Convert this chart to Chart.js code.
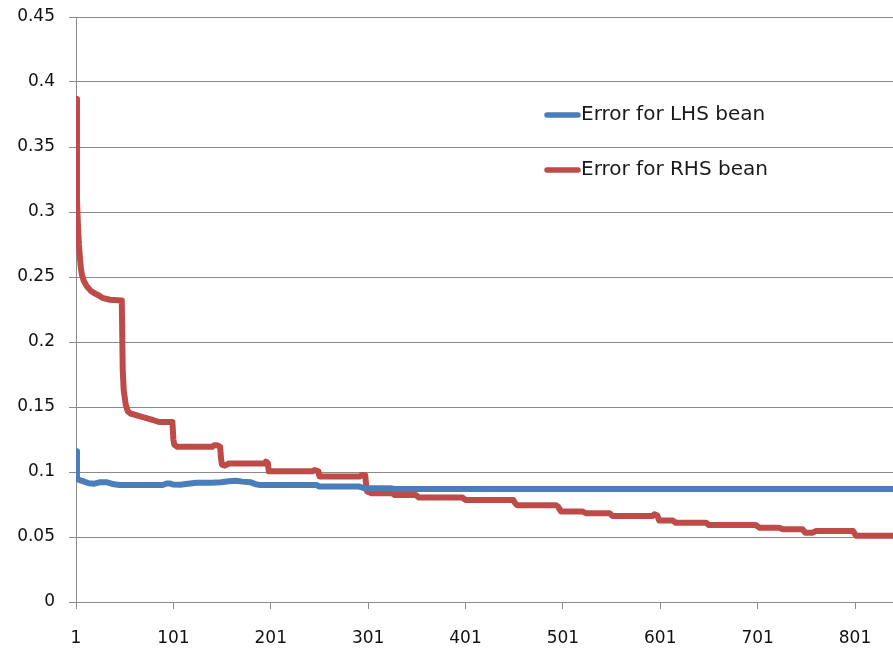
<!DOCTYPE html>
<html>
<head>
<meta charset="utf-8">
<title>Error for LHS / RHS bean</title>
<script src="https://cdn.jsdelivr.net/npm/chart.js@4.4.1/dist/chart.umd.min.js"></script>
<style>
  html, body { margin: 0; padding: 0; background: #ffffff; }
  #wrap { width: 893px; height: 650px; }
</style>
</head>
<body>
<div id="wrap"><canvas id="chart" width="893" height="650"></canvas></div>
<script>
// Iteration numbers shown under the horizontal axis
const xTicks = [1, 101, 201, 301, 401, 501, 601, 701, 801];
// Gridline values on the vertical axis
const yTicks = [0, 0.05, 0.1, 0.15, 0.2, 0.25, 0.3, 0.35, 0.4, 0.45];

const seriesNames = ['Error for LHS bean', 'Error for RHS bean'];

// Error for LHS bean: iteration where the value changes, and the value there
const lhsIter = [1, 2, 4, 8, 14, 20, 26, 32, 40, 46, 90, 94, 97, 101, 108, 118, 125, 140, 150, 158, 165, 172, 180, 186, 190, 248, 251, 292, 297, 324, 328, 840];
const lhsErr  = [0.116, 0.0955, 0.094, 0.093, 0.0913, 0.091, 0.0922, 0.0922, 0.0905, 0.090, 0.090, 0.0912, 0.0912, 0.0903, 0.0902, 0.0912, 0.0917, 0.0918, 0.0922, 0.0928, 0.0932, 0.0926, 0.0922, 0.0905, 0.090, 0.090, 0.0888, 0.0888, 0.0875, 0.0875, 0.0869, 0.0869];

// Error for RHS bean: iteration where the value changes, and the value there
const rhsIter = [1, 2, 3, 4, 5, 6, 7, 9, 12, 16, 20, 24, 28, 36, 48, 49, 50, 52, 54, 57, 66, 75, 80, 86, 100, 101, 102, 105, 141, 143, 146, 149, 150, 151, 154, 158, 195, 196, 198, 199, 244, 246, 250, 251, 292, 295, 298, 299, 300, 305, 326, 328, 350, 353, 398, 401, 450, 452, 454, 494, 496, 499, 521, 525, 549, 552, 593, 595, 598, 600, 614, 617, 648, 651, 699, 703, 723, 727, 747, 750, 757, 761, 799, 802, 840];
const rhsErr  = [0.387, 0.31, 0.29, 0.275, 0.265, 0.257, 0.252, 0.247, 0.243, 0.2395, 0.2375, 0.236, 0.234, 0.2325, 0.232, 0.178, 0.163, 0.152, 0.147, 0.145, 0.143, 0.141, 0.140, 0.1385, 0.1385, 0.125, 0.121, 0.1195, 0.1195, 0.1205, 0.1205, 0.1195, 0.110, 0.1055, 0.105, 0.1065, 0.1065, 0.108, 0.107, 0.1005, 0.1005, 0.1015, 0.1005, 0.0965, 0.0965, 0.0978, 0.0975, 0.0895, 0.085, 0.0836, 0.0836, 0.0823, 0.0823, 0.0803, 0.0803, 0.0785, 0.0785, 0.076, 0.0744, 0.0744, 0.0735, 0.0697, 0.0697, 0.0682, 0.0682, 0.0662, 0.0662, 0.0675, 0.0665, 0.0626, 0.0626, 0.061, 0.061, 0.0592, 0.0592, 0.0572, 0.0572, 0.0559, 0.0559, 0.0533, 0.0533, 0.0546, 0.0546, 0.051, 0.051];

const BLUE = '#4A7EBB';
const RED = '#BE4B48';
const GRID = '#8a8a8a';
const FONT = '"DejaVu Sans", sans-serif';

const toPoints = (xs, ys) => xs.map((x, i) => ({ x: x, y: ys[i] }));

// Legend drawn inside the plot area, without a box
const insideLegend = {
  id: 'insideLegend',
  afterDatasetsDraw(chart) {
    const { ctx, chartArea } = chart;
    const x0 = chartArea.left + 469;
    const rows = [chartArea.top + 98, chartArea.top + 153];
    ctx.save();
    chart.data.datasets.forEach((ds, i) => {
      const y = rows[i];
      ctx.strokeStyle = ds.borderColor;
      ctx.lineWidth = 5.5;
      ctx.lineCap = 'round';
      ctx.beginPath();
      ctx.moveTo(x0 + 2, y);
      ctx.lineTo(x0 + 33, y);
      ctx.stroke();
      ctx.fillStyle = '#1a1a1a';
      ctx.font = '20px ' + FONT;
      ctx.textAlign = 'left';
      ctx.textBaseline = 'middle';
      ctx.fillText(ds.label, x0 + 36, y);
    });
    ctx.restore();
  }
};

const lineStyle = color => ({
  borderColor: color,
  backgroundColor: color,
  borderWidth: 6,
  pointRadius: 0,
  tension: 0,
  borderJoinStyle: 'round',
  borderCapStyle: 'round',
  fill: false
});

new Chart(document.getElementById('chart'), {
  type: 'line',
  data: {
    datasets: [
      Object.assign({ label: seriesNames[0], data: toPoints(lhsIter, lhsErr) }, lineStyle(BLUE)),
      Object.assign({ label: seriesNames[1], data: toPoints(rhsIter, rhsErr) }, lineStyle(RED))
    ]
  },
  options: {
    responsive: false,
    animation: false,
    events: [],
    layout: { padding: { top: 17, right: 0, bottom: 0, left: 0 } },
    plugins: {
      legend: { display: false },
      tooltip: { enabled: false }
    },
    scales: {
      x: {
        type: 'linear',
        min: 1,
        max: 840,
        afterBuildTicks(scale) { scale.ticks = xTicks.map(v => ({ value: v })); },
        afterFit(scale) { scale.height = 48; scale.paddingLeft = 0; scale.paddingRight = 0; },
        grid: { drawOnChartArea: false, drawTicks: true, tickLength: 7, color: GRID, lineWidth: 1 },
        border: { display: true, color: GRID, width: 1 },
        ticks: {
          autoSkip: false,
          maxRotation: 0,
          padding: 19,
          color: '#111',
          font: { family: FONT, size: 17 },
          callback: v => String(v)
        }
      },
      y: {
        type: 'linear',
        min: 0,
        max: 0.45,
        afterBuildTicks(scale) { scale.ticks = yTicks.map(v => ({ value: v })); },
        afterFit(scale) { scale.width = 76; scale.paddingTop = 0; scale.paddingBottom = 0; },
        grid: { drawOnChartArea: true, drawTicks: true, tickLength: 7, color: GRID, lineWidth: 1 },
        border: { display: true, color: GRID, width: 1 },
        ticks: {
          padding: 14,
          color: '#111',
          font: { family: FONT, size: 17 },
          callback: v => String(Number(Number(v).toFixed(2)))
        }
      }
    }
  },
  plugins: [insideLegend]
});
</script>
</body>
</html>
